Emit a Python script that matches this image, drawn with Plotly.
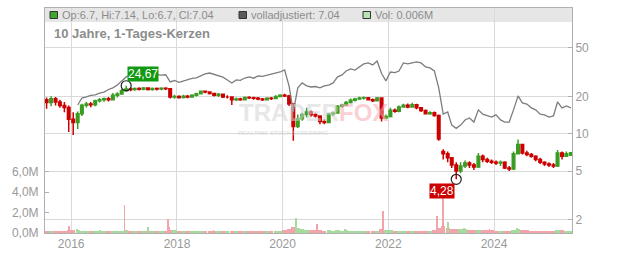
import math
import pandas as pd
import plotly.graph_objects as go

# ---------------- data (monthly candles) ----------------
months = (pd.date_range("2015-07-01", periods=120, freq="MS") + pd.Timedelta(days=14)).strftime("%Y-%m-%d").tolist()

opens = [19.0, 18.0, 19.3, 18.2, 17.0, 16.4,
         13.2, 12.4, 14.6, 17.1, 17.5, 17.3, 18.6, 19.0, 19.3, 19.0, 20.6, 21.1,
         22.5, 23.2, 23.0, 23.4, 23.1, 23.6, 23.0, 23.4, 23.2, 23.5, 23.3, 20.0,
         20.2, 19.8, 20.3, 20.0, 20.6, 21.2, 22.2, 21.9, 21.3, 20.6, 21.0, 20.0,
         20.0, 19.0, 19.2, 19.0, 19.8, 19.7, 19.5, 19.2, 19.0, 19.5, 19.4, 20.2,
         20.6, 20.4, 17.5, 11.5, 13.3, 14.4, 15.1, 14.3, 14.0, 12.6, 12.4, 14.5,
         14.8, 16.8, 17.2, 18.0, 18.8, 19.2, 19.6, 19.7, 19.0, 18.6, 19.6, 13.5,
         13.9, 15.6, 15.3, 16.6, 17.1, 16.6, 17.3, 16.3, 15.5, 14.6, 14.9, 14.1,
         7.2, 6.9, 6.4, 5.6, 5.0, 5.5, 5.8, 5.6, 5.4, 6.6, 6.2, 6.0,
         5.9, 5.8, 5.9, 5.3, 5.2, 6.9, 8.2, 7.0, 6.8, 6.6, 6.2, 5.9,
         5.7, 5.6, 5.5, 7.0, 6.6, 6.7]
highs = [19.8, 20.3, 20.0, 19.0, 18.2, 17.0,
         15.0, 15.2, 17.6, 18.3, 18.2, 19.0, 19.6, 19.8, 20.0, 21.5, 21.8, 23.2,
         24.67, 23.9, 23.9, 24.0, 24.1, 24.0, 23.9, 23.9, 24.0, 24.0, 23.5, 20.8,
         20.6, 20.8, 20.7, 21.0, 21.6, 22.6, 22.6, 22.2, 21.6, 21.5, 21.2, 20.6,
         20.2, 19.8, 19.7, 20.2, 20.3, 20.1, 20.0, 19.6, 19.9, 20.0, 20.6, 21.0,
         21.2, 20.8, 17.8, 14.4, 14.9, 16.3, 15.5, 14.9, 14.2, 13.2, 14.8, 15.2,
         17.2, 17.6, 18.5, 19.4, 19.7, 20.1, 20.2, 20.0, 19.4, 20.0, 19.9, 14.4,
         16.3, 16.1, 17.0, 17.6, 17.7, 17.9, 17.6, 16.6, 15.8, 15.3, 15.2, 14.4,
         7.5, 7.2, 6.5, 5.9, 5.9, 6.1, 6.0, 5.8, 7.0, 6.8, 6.4, 6.2,
         6.1, 6.1, 6.0, 5.5, 7.2, 9.0, 8.3, 7.3, 7.0, 6.7, 6.4, 6.0,
         5.9, 5.8, 7.4, 7.2, 7.2, 7.14]
lows = [16.0, 16.8, 17.0, 16.3, 15.0, 10.4,
        9.8, 11.0, 14.0, 16.4, 16.5, 16.8, 18.0, 18.3, 18.4, 18.8, 19.8, 20.8,
        22.0, 22.2, 22.5, 22.6, 22.7, 22.6, 22.5, 22.6, 22.7, 22.8, 19.4, 19.3,
        19.3, 19.4, 19.5, 19.8, 20.2, 21.0, 21.4, 20.9, 20.2, 20.0, 19.6, 19.4,
        17.2, 18.5, 18.6, 18.8, 19.2, 19.0, 18.8, 18.5, 18.8, 18.9, 19.2, 19.9,
        20.0, 16.9, 8.8, 11.2, 12.8, 13.6, 13.8, 13.6, 12.0, 12.0, 12.2, 14.0,
        14.6, 16.3, 16.9, 17.7, 18.4, 18.9, 19.1, 18.7, 18.2, 18.4, 12.6, 13.2,
        13.6, 14.9, 15.0, 16.3, 16.2, 16.4, 15.9, 15.1, 14.4, 14.3, 13.8, 8.8,
        6.2, 5.9, 5.3, 4.28, 4.8, 5.3, 5.3, 5.1, 5.3, 5.9, 5.8, 5.7,
        5.6, 5.5, 5.2, 5.0, 5.1, 6.8, 6.8, 6.6, 6.4, 6.0, 5.7, 5.5,
        5.4, 5.3, 5.4, 6.2, 6.5, 6.7]
closes = [18.0, 19.3, 18.2, 17.0, 16.4, 13.2,
          12.4, 14.6, 17.1, 17.5, 17.3, 18.6, 19.0, 19.3, 19.0, 20.6, 21.1, 22.5,
          23.2, 23.0, 23.4, 23.1, 23.6, 23.0, 23.4, 23.2, 23.5, 23.3, 20.0, 20.2,
          19.8, 20.3, 20.0, 20.6, 21.2, 22.2, 21.9, 21.3, 20.6, 21.0, 20.0, 20.0,
          19.0, 19.2, 19.0, 19.8, 19.7, 19.5, 19.2, 19.0, 19.5, 19.4, 20.2, 20.6,
          20.4, 17.5, 11.5, 13.3, 14.4, 15.1, 14.3, 14.0, 12.6, 12.4, 14.5, 14.8,
          16.8, 17.2, 18.0, 18.8, 19.2, 19.6, 19.7, 19.0, 18.6, 19.6, 13.5, 13.9,
          15.6, 15.3, 16.6, 17.1, 16.6, 17.3, 16.3, 15.5, 14.6, 14.9, 14.1, 9.1,
          6.9, 6.4, 5.6, 5.0, 5.5, 5.8, 5.6, 5.4, 6.6, 6.2, 6.0, 5.9,
          5.8, 5.9, 5.3, 5.2, 6.9, 8.2, 7.0, 6.8, 6.6, 6.2, 5.9, 5.7,
          5.6, 5.5, 7.0, 6.6, 6.9, 7.04]
adjusted = [None, None, None, None, None, None,
            None, 17.2, 19.6, 20.0, 20.6, 20.8, 21.5, 21.9, 23.0, 23.7, 25.0, 27.0,
            29.1, 30.2, 30.4, 30.0, 30.3, 30.0, 30.2, 30.4, 30.1, 30.3, 26.5, 27.2,
            26.3, 27.0, 27.8, 28.3, 28.6, 29.6, 30.8, 31.3, 30.6, 29.6, 29.0, 27.5,
            26.0, 27.5, 27.3, 28.5, 29.1, 28.4, 29.6, 29.4, 30.0, 30.3, 31.3, 31.9,
            33.1, 24.5, 15.1, 23.7, 26.0, 24.6, 24.1, 24.3, 23.7, 24.6, 25.0, 26.0,
            29.1, 30.2, 32.5, 33.8, 33.1, 35.1, 37.1, 37.8, 36.4, 39.2, 31.0, 27.0,
            31.9, 31.5, 32.5, 37.8, 37.1, 37.8, 38.5, 37.8, 35.1, 34.4, 32.5, 23.7,
            14.5, 15.1, 11.8, 11.1, 11.8, 13.0, 13.5, 12.5, 15.7, 14.5, 14.0, 13.7,
            14.3, 13.0, 12.5, 12.5, 15.7, 20.4, 17.9, 17.5, 16.3, 15.7, 14.5, 14.3,
            13.7, 14.0, 18.2, 16.3, 16.9, 16.3]
volume_m = [0.22, 0.20, 0.18, 0.20, 0.22, 0.30,
            0.30, 0.25, 0.20, 0.18, 0.16, 0.18, 0.17, 0.15, 0.16, 0.18, 0.20, 0.22,
            0.25, 0.18, 0.17, 0.16, 0.20, 0.18, 0.16, 0.15, 0.17, 0.20, 0.30, 0.25,
            0.22, 0.20, 0.18, 0.17, 0.16, 0.18, 0.17, 0.20, 0.18, 0.17, 0.20, 0.22,
            0.20, 0.18, 0.17, 0.16, 0.18, 0.20, 0.17, 0.16, 0.18, 0.17, 0.20, 0.22,
            0.25, 0.35, 0.55, 0.45, 0.35, 0.30, 0.28, 0.30, 0.25, 0.22, 0.25, 0.24,
            0.25, 0.22, 0.25, 0.22, 0.20, 0.20, 0.18, 0.18, 0.20, 0.22, 0.40, 0.30,
            0.25, 0.22, 0.22, 0.20, 0.20, 0.22, 0.20, 0.20, 0.22, 0.24, 0.30, 0.50,
            0.70, 0.45, 0.35, 0.40, 0.35, 0.35, 0.30, 0.28, 0.30, 0.28, 0.25, 0.25,
            0.22, 0.22, 0.20, 0.22, 0.30, 0.40, 0.30, 0.25, 0.22, 0.20, 0.20, 0.20,
            0.20, 0.18, 0.30, 0.25, 0.22, 0.20]
spike_dates = ["2015-12-18", "2016-02-10", "2016-07-20", "2017-01-03", "2017-06-15",
               "2017-11-01", "2017-11-10", "2018-09-10", "2020-03-12", "2020-04-03",
               "2020-08-25", "2021-03-10", "2021-11-24", "2022-12-02", "2023-01-13",
               "2023-02-17", "2023-06-10", "2023-12-01", "2024-06-10"]
spike_vol_m = [0.65, 0.35, 0.25, 2.75, 0.55, 1.35, 0.55, 0.30, 0.55, 1.45,
               0.85, 0.40, 2.20, 1.70, 4.20, 1.05, 0.50, 0.40, 0.50]
spike_up = [False, True, True, False, True, False, False, False, False, True,
            False, True, False, False, False, True, True, False, True]

year_ticks = ["2016-01-01", "2018-01-01", "2020-01-01", "2022-01-01", "2024-01-01"]
year_labels = ["2016", "2018", "2020", "2022", "2024"]
price_ticks = [2, 5, 10, 20, 50]
vol_ticks = [0, 2e6, 4e6, 6e6]
vol_labels = ["0,0M", "2,0M", "4,0M", "6,0M"]

high_idx = 18
low_idx = 93

# ---------------- styling ----------------
GREEN = "#3a9d23"
RED = "#cc0000"
VOL_UP = "#a6db9e"
VOL_DN = "#f3a3aa"
GRID = "#dadada"
AXIS = "#b0b0b0"
TXT = "#999999"
FONT = "Liberation Sans, Arial, sans-serif"

fig = go.Figure()

# volume (left axis)
fig.add_trace(go.Bar(
    x=months, y=[v * 1e6 for v in volume_m],
    marker=dict(color=[VOL_UP if c >= o else VOL_DN for o, c in zip(opens, closes)], line=dict(width=0)),
    width=30 * 86400000, yaxis="y", hoverinfo="skip"))
fig.add_trace(go.Bar(
    x=spike_dates, y=[v * 1e6 for v in spike_vol_m],
    marker=dict(color=[VOL_UP if u else VOL_DN for u in spike_up], line=dict(width=0)),
    width=6 * 86400000, yaxis="y", hoverinfo="skip"))

# adjusted line
fig.add_trace(go.Scatter(
    x=months, y=adjusted, mode="lines", yaxis="y2",
    line=dict(color="#7d7d7d", width=1.3), connectgaps=False, hoverinfo="skip"))

# candles
fig.add_trace(go.Candlestick(
    x=months, open=opens, high=highs, low=lows, close=closes, yaxis="y2",
    increasing=dict(line=dict(color=GREEN, width=1.5), fillcolor=GREEN),
    decreasing=dict(line=dict(color=RED, width=1.5), fillcolor=RED),
    whiskerwidth=0, hoverinfo="skip"))

# extreme markers
fig.add_trace(go.Scatter(
    x=[months[high_idx], months[low_idx]], y=[highs[high_idx], lows[low_idx]],
    mode="markers", yaxis="y2",
    marker=dict(symbol="circle-open", size=10, color="#222", line=dict(width=1.2)),
    hoverinfo="skip"))

def px_x(px):
    return (px - 45) / 527.0

def px_y(py):
    return (233 - py) / 225.0

shapes = [
    dict(type="rect", xref="paper", yref="paper", x0=0, x1=1, y0=px_y(22), y1=1,
         fillcolor="#e6e6e6", line=dict(width=0), layer="below"),
    dict(type="rect", xref="paper", yref="paper", x0=px_x(50), x1=px_x(57.5), y0=px_y(18.5), y1=px_y(11.5),
         fillcolor="#3fa62e", line=dict(color="#333", width=1)),
    dict(type="rect", xref="paper", yref="paper", x0=px_x(239), x1=px_x(246.5), y0=px_y(18.5), y1=px_y(11.5),
         fillcolor="#5a5a5a", line=dict(color="#333", width=1)),
    dict(type="rect", xref="paper", yref="paper", x0=px_x(363), x1=px_x(370.5), y0=px_y(18.5), y1=px_y(11.5),
         fillcolor="#b8e2b2", line=dict(color="#333", width=1)),
]

hdr_font = dict(family=FONT, size=11, color="#8c8c8c")
annotations = [
    dict(xref="paper", yref="paper", x=px_x(60), y=px_y(15.2), xanchor="left", yanchor="middle",
         text="Op:%s, Hi:%s, Lo:%s, Cl:%s" % (opens[-1], highs[-1], lows[-1], closes[-1]),
         showarrow=False, font=hdr_font),
    dict(xref="paper", yref="paper", x=px_x(249), y=px_y(15.2), xanchor="left", yanchor="middle",
         text="volladjustiert: %s" % closes[-1], showarrow=False, font=hdr_font),
    dict(xref="paper", yref="paper", x=px_x(373), y=px_y(15.2), xanchor="left", yanchor="middle",
         text="Vol: 0.006M", showarrow=False, font=hdr_font),
    dict(xref="paper", yref="paper", x=px_x(52), y=px_y(33), xanchor="left", yanchor="middle",
         text="<b>10 Jahre, 1-Tages-Kerzen</b>", showarrow=False,
         font=dict(family=FONT, size=13, color="#8c8c8c")),
    # watermark
    dict(xref="paper", yref="paper", x=px_x(313), y=px_y(112), xanchor="center", yanchor="middle",
         text="<b><span style='color:#d4d4d4'>TRADER</span><span style='color:#f7aab2'>FOX</span></b>",
         showarrow=False, opacity=0.55, font=dict(family=FONT, size=24)),
    dict(xref="paper", yref="paper", x=px_x(283), y=px_y(133), xanchor="center", yanchor="middle",
         text="<b>REALTIME STOCK SCREENING</b>", showarrow=False, opacity=0.55,
         font=dict(family=FONT, size=6, color="#cfcfcf")),
    # extreme labels
    dict(x=months[high_idx], y=math.log10(highs[high_idx]), xref="x", yref="y2",
         xanchor="left", yanchor="bottom", xshift=1, yshift=4, showarrow=False,
         text=("%.2f" % highs[high_idx]).replace(".", ","), bgcolor="#119911", borderpad=0,
         font=dict(family=FONT, size=12, color="white")),
    dict(x=months[low_idx], y=math.log10(lows[low_idx]), xref="x", yref="y2",
         xanchor="right", yanchor="top", xshift=-1, yshift=-4, showarrow=False,
         text=("%.2f" % lows[low_idx]).replace(".", ","), bgcolor="#cc0000", borderpad=0,
         font=dict(family=FONT, size=12, color="white")),
]

fig.update_layout(
    width=632, height=253,
    margin=dict(l=45, r=60, t=8, b=20, pad=0, autoexpand=False),
    paper_bgcolor="white", plot_bgcolor="white",
    showlegend=False, barmode="overlay", bargap=0, boxgap=0.1,
    font=dict(family=FONT, size=12, color=TXT),
    shapes=shapes, annotations=annotations,
    xaxis=dict(type="date", range=["2015-07-04", "2025-06-23"],
               tickvals=year_ticks, ticktext=year_labels,
               showgrid=True, gridcolor=GRID, gridwidth=1, automargin=False,
               showline=True, linecolor=AXIS, linewidth=1, mirror=True, ticks="",
               rangeslider=dict(visible=False), zeroline=False,
               tickfont=dict(family=FONT, size=12, color=TXT)),
    yaxis=dict(range=[0, 22.1e6], tickvals=vol_ticks, ticktext=vol_labels,
               showgrid=False, showline=True, linecolor=AXIS, linewidth=1,
               ticks="inside", ticklen=4, tickcolor=AXIS, zeroline=False,
               ticklabelstandoff=3, automargin=False,
               tickfont=dict(family=FONT, size=12, color=TXT)),
    yaxis2=dict(overlaying="y", side="right", type="log", range=[0.195, 2.024],
                tickvals=price_ticks, ticktext=[str(t) for t in price_ticks],
                showgrid=True, gridcolor=GRID, gridwidth=1, automargin=False,
                showline=True, linecolor=AXIS, linewidth=1,
                ticks="inside", ticklen=4, tickcolor=AXIS, zeroline=False,
                tickfont=dict(family=FONT, size=12, color=TXT)),
)

fig.write_html("out.html")
